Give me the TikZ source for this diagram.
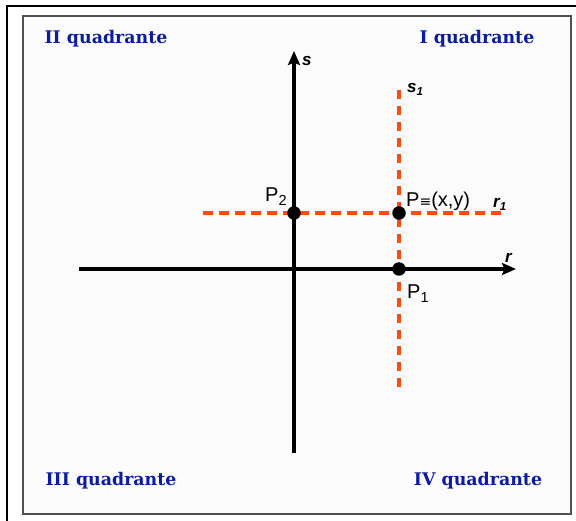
\documentclass[tikz,border=0pt]{standalone}
\usepackage{fontspec}
\setmainfont{Liberation Sans}
\newfontfamily\quadfont{DejaVu Serif}
\newfontfamily\symfont{DejaVu Sans}
\usetikzlibrary{arrows.meta}

\definecolor{quadblue}{RGB}{12,28,160}
\definecolor{auxorange}{RGB}{255,75,15}
\definecolor{panelgray}{RGB}{251,251,251}
\definecolor{framegray}{RGB}{80,80,80}

\newcommand\lowsub[1]{\raisebox{-0.32ex}{\fontsize{14.5}{14.5}\selectfont#1}}

\begin{document}
\begin{tikzpicture}[
  x=1pt, y=-1pt,
  axis/.style   = {line width=3.2pt, -{Stealth[length=14pt,width=12pt,inset=2.5pt]}},
  aux/.style    = {line width=3.2pt, auxorange, dash pattern=on 9.5pt off 6.5pt},
  dot/.style    = {circle, fill=black, inner sep=0pt, minimum size=13.5pt},
  quad/.style   = {font=\quadfont\bfseries\fontsize{17.4}{20}\selectfont,
                   text=quadblue, inner sep=0pt},
  axlbl/.style  = {font=\bfseries\itshape\fontsize{17}{18}\selectfont,
                   anchor=base west, inner sep=0pt},
  ptlbl/.style  = {font=\fontsize{20}{22}\selectfont, anchor=base west, inner sep=0pt},
]
  \useasboundingbox (0,0) rectangle (576,521);

  % outer frame and panel
  \draw[line width=1.8pt] (7,521) -- (7,6) -- (576,6);
  \draw[line width=1.6pt, framegray, fill=panelgray] (23,16) rectangle (571,514);

  \coordinate (rfrom) at (79,269);
  \coordinate (rto)   at (516,269);
  \coordinate (sfrom) at (294,453);
  \coordinate (sto)   at (294,51);
  \coordinate (r1from) at (203,213);
  \coordinate (r1to)   at (503,213);
  \coordinate (s1from) at (399,90);
  \coordinate (s1to)   at (399,390);

  \draw[aux] (r1from) -- (r1to);
  \draw[aux] (s1from) -- (s1to);
  \draw[axis] (rfrom) -- (rto);
  \draw[axis] (sfrom) -- (sto);

  \node[dot] (P)  at (399,213) {};
  \node[dot] (P1) at (399,269) {};
  \node[dot] (P2) at (294,213) {};

  \node[axlbl] (slbl)  at (302,66)  {s};
  \node[axlbl] (s1lbl) at (407,93)  {s\raisebox{-0.3ex}{\fontsize{11.5}{11.5}\selectfont 1}};
  \node[axlbl] (rlbl)  at (505,263) {r};
  \node[axlbl] (r1lbl) at (493,208) {r\raisebox{-0.3ex}{\fontsize{11.5}{11.5}\selectfont 1}};

  \node[ptlbl] (Plbl)  at (406,207) {P{\symfont\fontsize{14}{14}\selectfont\raisebox{0.1ex}{≡}}(x,y)};
  \node[ptlbl] (P1lbl) at (407,299) {P\lowsub{1}};
  \node[ptlbl] (P2lbl) at (265,202) {P\lowsub{2}};

  \node[quad] (q2) at (106,39)  {II quadrante};
  \node[quad] (q1) at (477,39)  {I quadrante};
  \node[quad] (q3) at (111,481) {III quadrante};
  \node[quad] (q4) at (478,481) {IV quadrante};
\end{tikzpicture}
\end{document}
